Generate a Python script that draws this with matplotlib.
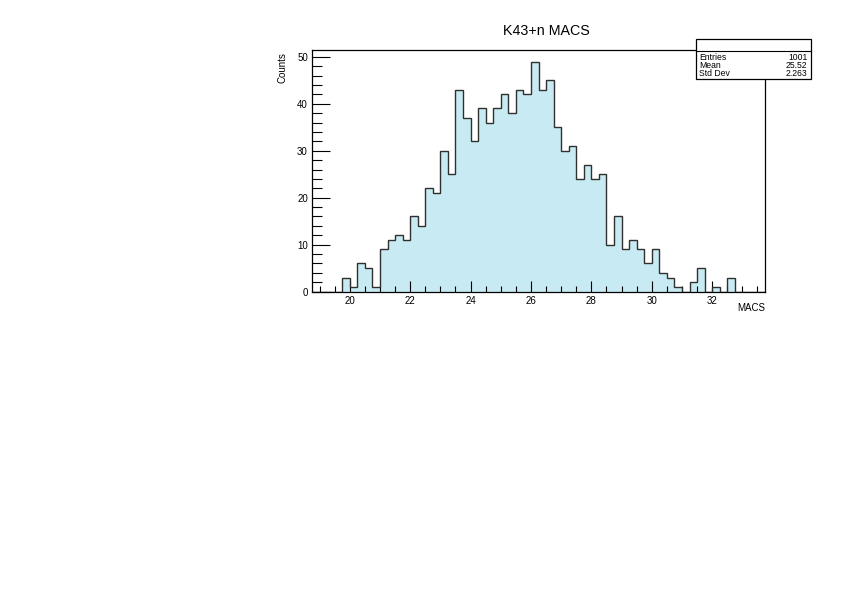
import numpy as np
import matplotlib
matplotlib.use("Agg")
import matplotlib.pyplot as plt
from matplotlib.patches import Rectangle
from matplotlib.lines import Line2D
from matplotlib.ticker import MultipleLocator

plt.rcParams['font.family'] = ['Liberation Sans', 'DejaVu Sans']

# histogram data: 60 bins of width 0.25 starting at 18.75
x_start = 18.75
bin_width = 0.25
counts = [0, 0, 0, 0,
          3, 1, 6, 5, 1,
          9, 11, 12, 11,
          16, 14, 22, 21,
          30, 25, 43, 37,
          32, 39, 36, 39,
          42, 38, 43, 42,
          49, 43, 45, 35,
          30, 31, 24, 27,
          24, 25, 10, 16,
          9, 11, 9, 6,
          9, 4, 3, 1,
          0, 2, 5, 0,
          1, 0, 3,
          0, 0, 0, 0]
stats_labels = ['Entries', 'Mean', 'Std Dev']
stats_values = ['1001', '25.52', '2.263']
title = 'K43+n MACS'
xlabel = 'MACS'
ylabel = 'Counts'

counts = np.array(counts)
edges = x_start + bin_width * np.arange(len(counts) + 1)

W, H = 842, 595
fig = plt.figure(figsize=(W / 100, H / 100), dpi=100)

# axes box in pixel coords
L, R, T, B = 312, 765, 50, 291.6
ax = fig.add_axes([L / W, 1 - B / H, (R - L) / W, (B - T) / H])

fill_col = '#c7eaf3'
ax.stairs(counts, edges, fill=True, color=fill_col, zorder=1)
ax.stairs(counts, edges, color='#303030', linewidth=1.0, baseline=0, zorder=2)

ax.set_xlim(edges[0], edges[-1])
ax.set_ylim(0, counts.max() * 1.05)

ax.xaxis.set_major_locator(MultipleLocator(2))
ax.xaxis.set_minor_locator(MultipleLocator(0.5))
ax.yaxis.set_major_locator(MultipleLocator(10))
ax.yaxis.set_minor_locator(MultipleLocator(2))
ax.tick_params(axis='both', which='both', direction='in', labelsize=7, width=0.8,
               color='black', top=False, right=False)
ax.tick_params(axis='x', which='major', length=8, pad=3)
ax.tick_params(axis='x', which='minor', length=4)
ax.tick_params(axis='y', which='major', length=13, pad=3)
ax.tick_params(axis='y', which='minor', length=7)
for s in ax.spines.values():
    s.set_linewidth(0.9)
    s.set_color('black')

# title and axis labels
fig.text(546 / W, 1 - 31 / H, title, ha='center', va='center', fontsize=10.3)
fig.text(765 / W, 1 - 308 / H, xlabel, ha='right', va='center', fontsize=7)
fig.text(283 / W, 1 - 52 / H, ylabel, ha='center', va='top', rotation=90, fontsize=7)

# stats box
bx0, bx1, by0, by1 = 695.7, 810.7, 39, 79
fig.patches.append(Rectangle((bx0 / W, 1 - by1 / H), (bx1 - bx0) / W, (by1 - by0) / H,
                             transform=fig.transFigure, facecolor='white',
                             edgecolor='black', linewidth=0.9, zorder=5))
fig.lines.append(Line2D([bx0 / W, bx1 / W], [1 - 50.7 / H, 1 - 50.7 / H],
                        transform=fig.transFigure, color='black', linewidth=0.8, zorder=6))
for i, (lab, val) in enumerate(zip(stats_labels, stats_values)):
    yy = 1 - (57.5 + 8 * i) / H
    fig.text(699 / W, yy, lab, ha='left', va='center', fontsize=6.2, zorder=7)
    fig.text(807.5 / W, yy, val, ha='right', va='center', fontsize=6.2, zorder=7)

fig.savefig('out.png', dpi=100)
